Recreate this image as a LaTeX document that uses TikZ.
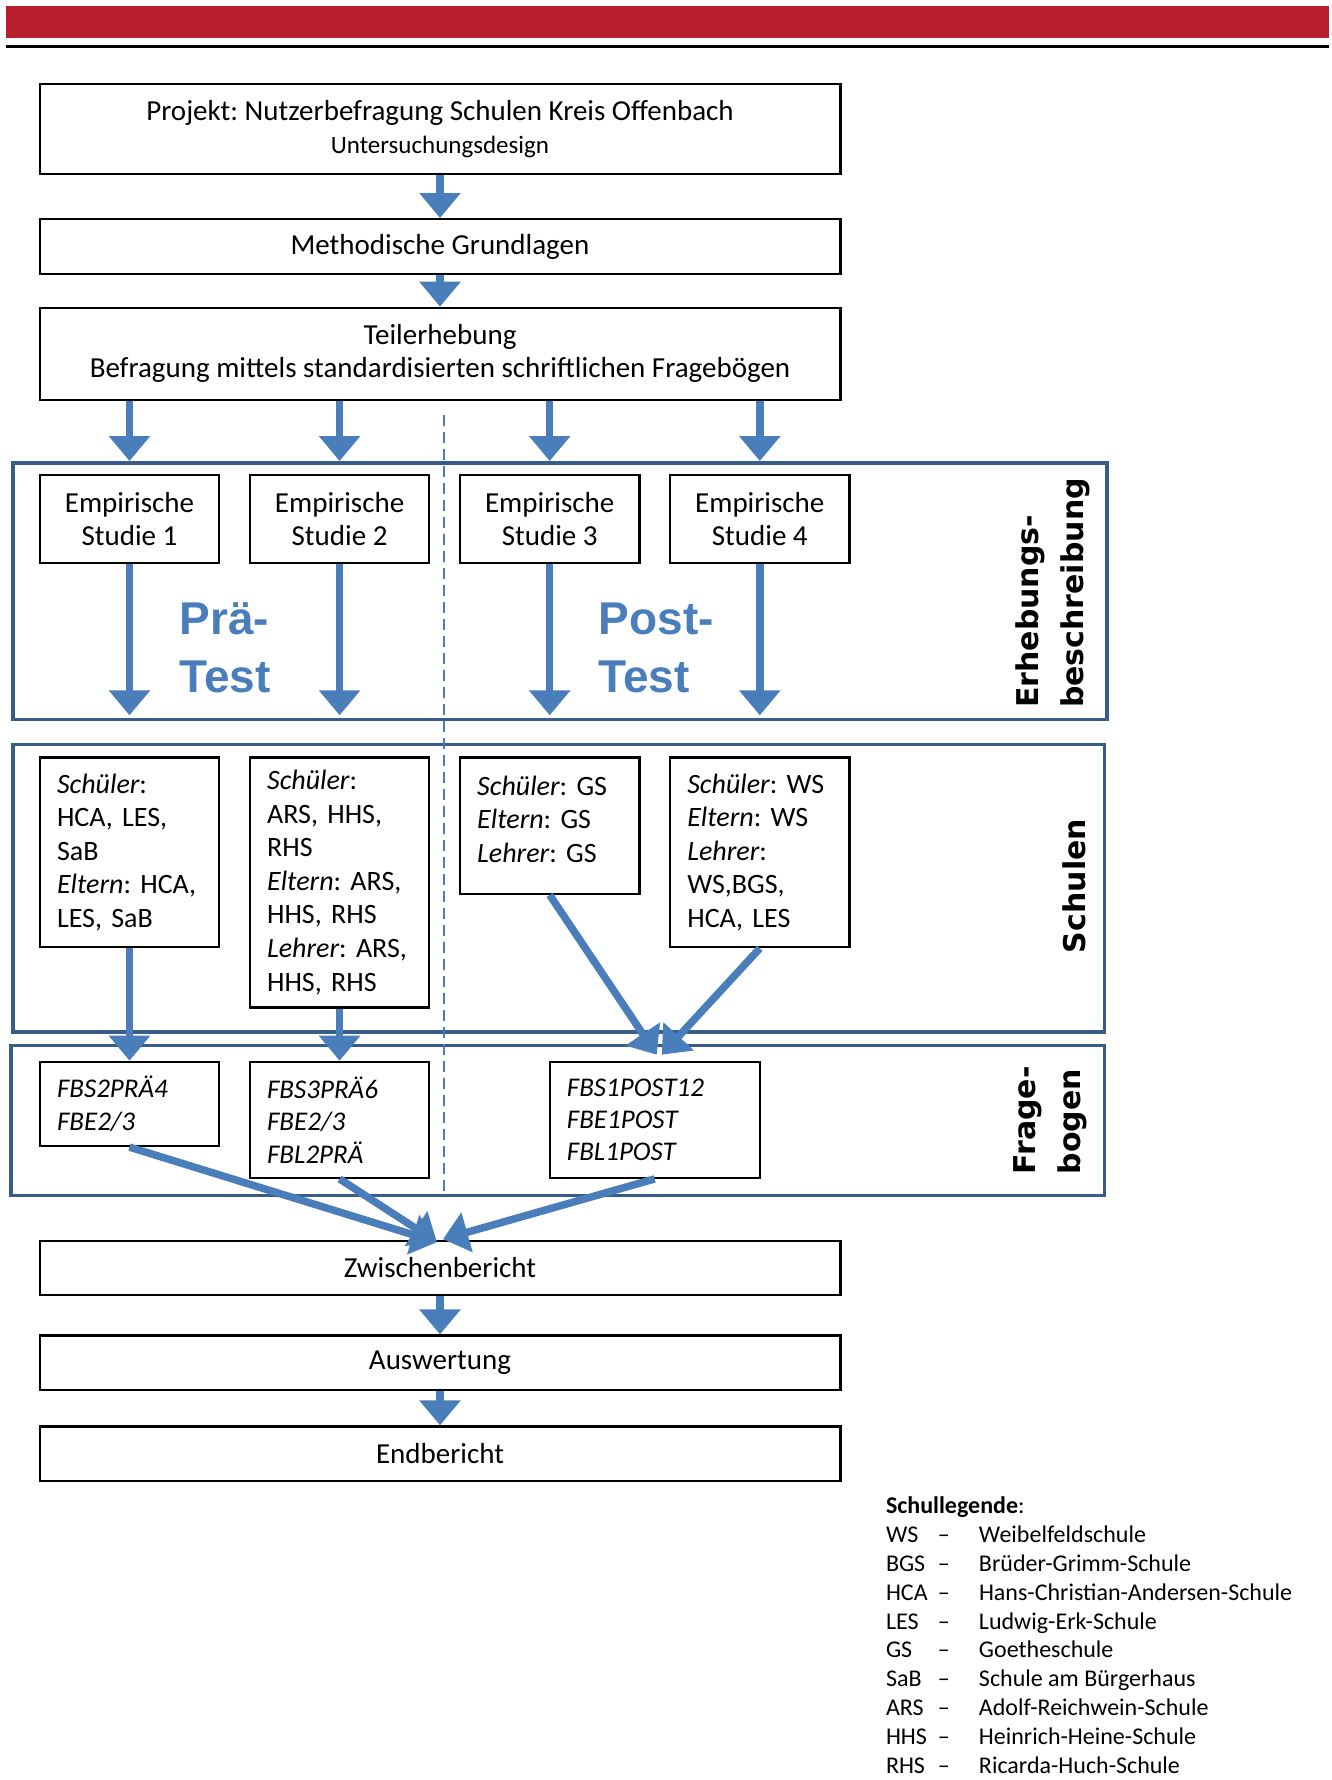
\documentclass[tikz,border=0pt]{standalone}
\usepackage{fontspec}
\setmainfont{Carlito}
\newfontfamily\arialfont{Liberation Sans}
\newfontfamily\sidefont{DejaVu Sans}
\usepackage{tikz}
\usetikzlibrary{positioning,calc,arrows.meta}
\definecolor{headred}{RGB}{185,30,45}
\definecolor{arrowblue}{RGB}{74,126,187}
\definecolor{frameblue}{RGB}{56,93,138}
\frenchspacing
\tikzstyle{bigbox} = [rectangle, draw=black, line width=2.3pt, minimum width=800.7pt, inner sep=0pt, align=center, font=\fontsize{29}{33}\selectfont]
\tikzstyle{studbox} = [rectangle, draw=black, line width=2.3pt, minimum width=179.4pt, minimum height=88.6pt, inner sep=0pt, align=center, font=\fontsize{29}{33.6}\selectfont]
\tikzstyle{listbox} = [rectangle, draw=black, line width=2.3pt, text width=145pt, inner xsep=17.2pt, inner ysep=0pt, align=left, anchor=north, font=\fontsize{28}{33.6}\selectfont]
\tikzstyle{fbbox} = [listbox, font=\itshape\fontsize{27}{32.4}\selectfont]
\tikzstyle{frame} = [rectangle, draw=frameblue, line width=3.5pt, inner sep=0pt, anchor=north west]
\tikzstyle{sidelabel} = [rotate=90, align=left, inner sep=0pt, font=\sidefont\bfseries\fontsize{30}{45}\selectfont]
\tikzstyle{testlabel} = [anchor=west, align=left, inner sep=0pt, text=arrowblue, font=\arialfont\bfseries\fontsize{46}{58}\selectfont]
\tikzstyle{bluearrow} = [line width=7.5pt, draw=arrowblue, -{Triangle[width=40pt,length=25pt]}]

\begin{document}
\begin{tikzpicture}[x=1pt,y=-1pt]
\useasboundingbox (0,0) rectangle (1331,1780);
\fill[headred] (5.7,5.7) rectangle (1328.8,37.5);
\draw[line width=3.5pt] (5.7,46.6) -- (1328.8,46.6);

% Rahmen
\node[frame, minimum width=1093.6pt, minimum height=256.8pt] (erheb) at (11.4,461) {};
\node[frame, minimum width=1091.4pt, minimum height=287.3pt] (schul) at (11.4,742.7) {};
\node[frame, minimum width=1093.8pt, minimum height=149.9pt] (frage) at (9,1043.7) {};
\draw[arrowblue, line width=1.5pt, dash pattern=on 11pt off 6pt] (444,414.5) -- (444,1194.7);

\node[bigbox, minimum height=90pt] (proj) at (440,129) {Projekt: Nutzerbefragung Schulen Kreis Offenbach\\{\fontsize{25}{30}\selectfont Untersuchungsdesign}};
\node[bigbox, minimum height=54.7pt] (meth) at (440,246.5) {Methodische Grundlagen};
\node[bigbox, minimum height=92pt] (teil) at (440,353.8) {Teilerhebung\\Befragung mittels standardisierten schriftlichen Fragebögen};

\node[studbox] (s1) at (129.5,519) {Empirische\\Studie 1};
\node[studbox] (s2) at (339.6,519) {Empirische\\Studie 2};
\node[studbox] (s3) at (549.7,519) {Empirische\\Studie 3};
\node[studbox] (s4) at (759.8,519) {Empirische\\Studie 4};
\node[testlabel] (pre) at (179.4,648) {Prä-\\Test};
\node[testlabel] (post) at (598.5,648) {Post-\\Test};
\node[sidelabel] (erhlab) at (1053,593) {Erhebungs-\\beschreibung};

\node[listbox, minimum height=189.6pt] (sc1) at (129.5,756.4) {{\itshape Schüler}:\\HCA, LES,\\SaB\\{\itshape Eltern}: HCA,\\LES, SaB};
\node[listbox, minimum height=249.8pt] (sc2) at (339.6,756.4) {{\itshape Schüler}:\\ARS, HHS,\\RHS\\{\itshape Eltern}: ARS,\\HHS, RHS\\{\itshape Lehrer}: ARS,\\HHS, RHS};
\node[listbox, minimum height=136.3pt] (sc3) at (549.7,756.4) {{\itshape Schüler}: GS\\{\itshape Eltern}: GS\\{\itshape Lehrer}: GS\\[-20pt]\mbox{}};
\node[listbox, minimum height=189.6pt] (sc4) at (759.8,756.4) {{\itshape Schüler}: WS\\{\itshape Eltern}: WS\\{\itshape Lehrer}:\\WS,BGS,\\HCA, LES};
\node[sidelabel] (schlab) at (1074.4,886) {Schulen};

\node[fbbox, minimum height=84.1pt] (f1) at (129.5,1060.7) {FBS2PRÄ4\\FBE2/3};
\node[fbbox, minimum height=115.9pt] (f2) at (339.6,1060.7) {FBS3PRÄ6\\FBE2/3\\FBL2PRÄ};
\node[fbbox, minimum height=115.9pt, text width=175.6pt] (f3) at (654.7,1060.7) {FBS1POST12\\FBE1POST\\FBL1POST};
\node[sidelabel] (fraglab) at (1050.5,1120.4) {Frage-\\bogen};

\node[bigbox, minimum height=53.4pt] (zw) at (440,1268) {Zwischenbericht};
\node[bigbox, minimum height=54.5pt] (ausw) at (440,1362.8) {Auswertung};
\node[bigbox, minimum height=54.5pt] (endb) at (440,1453.7) {Endbericht};

\node[anchor=north west, inner sep=0pt, font=\fontsize{24}{28.8}\selectfont] (legend) at (885.8,1493.5) {%
\begin{tabular}{@{}p{52pt}@{}p{41pt}@{}l@{}}
\multicolumn{3}{@{}l@{}}{\textbf{Schullegende}:}\\
WS & \textendash & Weibelfeldschule\\
BGS & \textendash & Brüder-Grimm-Schule\\
HCA & \textendash & Hans-Christian-Andersen-Schule\\
LES & \textendash & Ludwig-Erk-Schule\\
GS & \textendash & Goetheschule\\
SaB & \textendash & Schule am Bürgerhaus\\
ARS & \textendash & Adolf-Reichwein-Schule\\
HHS & \textendash & Heinrich-Heine-Schule\\
RHS & \textendash & Ricarda-Huch-Schule
\end{tabular}};

% Pfeile
\draw[bluearrow] (proj.south) -- (meth.north);
\draw[bluearrow] (meth.south) -- (teil.north);
\draw[bluearrow] (teil.south -| s1.north) -- (erheb.north -| s1.north);
\draw[bluearrow] (teil.south -| s2.north) -- (erheb.north -| s2.north);
\draw[bluearrow] (teil.south -| s3.north) -- (erheb.north -| s3.north);
\draw[bluearrow] (teil.south -| s4.north) -- (erheb.north -| s4.north);
\draw[bluearrow] (s1.south) -- ($(erheb.south -| s1.south)+(0,-6)$);
\draw[bluearrow] (s2.south) -- ($(erheb.south -| s2.south)+(0,-6)$);
\draw[bluearrow] (s3.south) -- ($(erheb.south -| s3.south)+(0,-6)$);
\draw[bluearrow] (s4.south) -- ($(erheb.south -| s4.south)+(0,-6)$);
\draw[bluearrow] (sc1.south) -- (f1.north);
\draw[bluearrow] (sc2.south) -- (f2.north);
\draw[bluearrow] (sc3.south) -- ($(f3.north)+(2,-6)$);
\draw[bluearrow] (sc4.south) -- ($(f3.north)+(7,-6)$);
\draw[bluearrow] (f1.south) -- ($(zw.north)+(-3,2)$);
\draw[bluearrow] (f2.south) -- ($(zw.north)+(-3,2)$);
\draw[bluearrow] (f3.south) -- ($(zw.north)+(3,-1)$);
\draw[bluearrow] (zw.south) -- (ausw.north);
\draw[bluearrow] (ausw.south) -- (endb.north);
\end{tikzpicture}
\end{document}
